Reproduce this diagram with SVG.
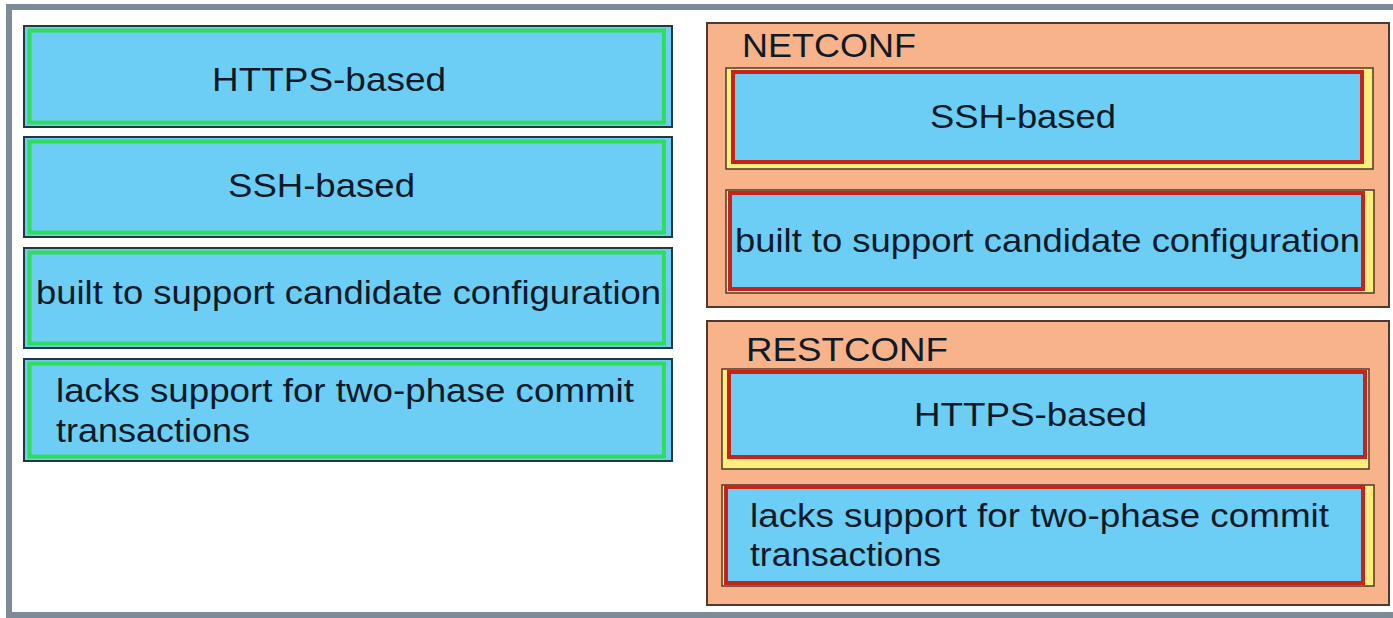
<svg xmlns="http://www.w3.org/2000/svg" width="1393" height="618" viewBox="0 0 1393 618">
<style>
  .t { font-family: "Liberation Sans", Arial, sans-serif; font-size: 34px; fill: #0f1a28; }
  .lbox { fill: #6ccdf5; stroke: #1e3a3e; stroke-width: 2; }
  .green { fill: none; stroke: #30dc5a; stroke-width: 4; }
  .cont { fill: #f8b38a; stroke: #4d3a2c; stroke-width: 2; }
  .ybox { fill: #fbee7c; stroke: #4d3a2c; stroke-width: 1.5; }
  .rbox { fill: #6ccdf5; stroke: #c8231b; stroke-width: 4; }
</style>
<rect x="0" y="0" width="1393" height="618" fill="#ffffff"/>
<rect id="frame" x="9" y="7" width="1400" height="608" fill="#ffffff" stroke="#7d8a97" stroke-width="6"/>

<g id="connectors"></g>

<g id="left-https">
  <rect class="lbox" x="24" y="26" width="648" height="101"/>
  <rect class="green" x="29.5" y="30.5" width="634.5" height="92"/>
  <text class="t" x="212" y="91" textLength="234" lengthAdjust="spacingAndGlyphs">HTTPS-based</text>
</g>
<g id="left-ssh">
  <rect class="lbox" x="24" y="137" width="648" height="100"/>
  <rect class="green" x="29.5" y="141.5" width="634.5" height="91"/>
  <text class="t" x="228" y="197" textLength="187" lengthAdjust="spacingAndGlyphs">SSH-based</text>
</g>
<g id="left-candidate">
  <rect class="lbox" x="24" y="248" width="648" height="100"/>
  <rect class="green" x="29.5" y="252.5" width="634.5" height="91"/>
  <text class="t" x="36" y="304" textLength="625" lengthAdjust="spacingAndGlyphs">built to support candidate configuration</text>
</g>
<g id="left-twophase">
  <rect class="lbox" x="24" y="359" width="648" height="102"/>
  <rect class="green" x="29.5" y="363.5" width="634.5" height="93"/>
  <text class="t" x="56" y="402" textLength="578" lengthAdjust="spacingAndGlyphs">lacks support for two-phase commit</text>
  <text class="t" x="56" y="442" textLength="194" lengthAdjust="spacingAndGlyphs">transactions</text>
</g>

<g id="netconf">
  <rect class="cont" x="707" y="23" width="682" height="284"/>
  <text class="t" x="742" y="57" textLength="174" lengthAdjust="spacingAndGlyphs">NETCONF</text>
  <g id="netconf-ssh">
    <rect class="ybox" x="726" y="68" width="647" height="101"/>
    <rect class="rbox" x="733" y="72" width="629" height="90"/>
    <text class="t" x="930" y="128" textLength="186" lengthAdjust="spacingAndGlyphs">SSH-based</text>
  </g>
  <g id="netconf-candidate">
    <rect class="ybox" x="726" y="190" width="648" height="103"/>
    <rect class="rbox" x="730" y="193" width="633" height="96"/>
    <text class="t" x="735" y="252" textLength="625" lengthAdjust="spacingAndGlyphs">built to support candidate configuration</text>
  </g>
</g>

<g id="restconf">
  <rect class="cont" x="707" y="321" width="682" height="284"/>
  <text class="t" x="746" y="361" textLength="202" lengthAdjust="spacingAndGlyphs">RESTCONF</text>
  <g id="restconf-https">
    <rect class="ybox" x="722" y="369" width="647" height="100"/>
    <rect class="rbox" x="729" y="372" width="636" height="85"/>
    <text class="t" x="914" y="426" textLength="233" lengthAdjust="spacingAndGlyphs">HTTPS-based</text>
  </g>
  <g id="restconf-twophase">
    <rect class="ybox" x="722" y="485" width="652" height="101"/>
    <rect class="rbox" x="726" y="487" width="637" height="96"/>
    <text class="t" x="750" y="527" textLength="579" lengthAdjust="spacingAndGlyphs">lacks support for two-phase commit</text>
    <text class="t" x="750" y="566" textLength="191" lengthAdjust="spacingAndGlyphs">transactions</text>
  </g>
</g>
</svg>
